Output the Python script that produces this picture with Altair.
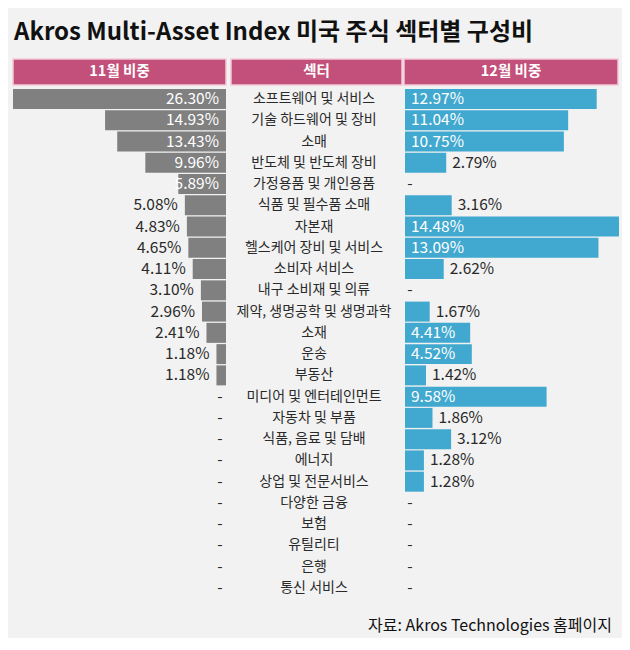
import altair as alt
import pandas as pd

# ---------------- data ----------------
sectors = ["소프트웨어 및 서비스", "기술 하드웨어 및 장비", "소매", "반도체 및 반도체 장비",
           "가정용품 및 개인용품", "식품 및 필수품 소매", "자본재", "헬스케어 장비 및 서비스",
           "소비자 서비스", "내구 소비재 및 의류", "제약, 생명공학 및 생명과학", "소재", "운송",
           "부동산", "미디어 및 엔터테인먼트", "자동차 및 부품", "식품, 음료 및 담배", "에너지",
           "상업 및 전문서비스", "다양한 금융", "보험", "유틸리티", "은행", "통신 서비스"]
nov = [26.30, 14.93, 13.43, 9.96, 5.89, 5.08, 4.83, 4.65, 4.11, 3.10, 2.96, 2.41, 1.18, 1.18,
       None, None, None, None, None, None, None, None, None, None]
dec = [12.97, 11.04, 10.75, 2.79, None, 3.16, 14.48, 13.09, 2.62, None, 1.67, 4.41, 4.52, 1.42,
       9.58, 1.86, 3.12, 1.28, 1.28, None, None, None, None, None]
headers = ["11월 비중", "섹터", "12월 비중"]
title_text = "Akros Multi-Asset Index 미국 주식 섹터별 구성비"
source_text = "자료: Akros Technologies 홈페이지"

df = pd.DataFrame({"sector": sectors, "nov": nov, "dec": dec, "idx": list(range(len(sectors)))})

# ---------------- layout ----------------
FONT = "Noto Sans CJK KR"
BG = "#f2f2f2"
GRAY = "#808080"
BLUE = "#41a8cf"
PINK = "#c3507a"
TXT = "#2a2a2a"

H = 630
ROW_PX = 21.26
TOP0 = 91
y_dom = [-TOP0 / ROW_PX, -TOP0 / ROW_PX + H / ROW_PX]
yscale = alt.Scale(domain=y_dom, reverse=True, nice=False, zero=False)

LW, MW, RW = 220, 172, 218
L_PX = 213 / 26.3
R_PX = 214 / 14.48
lx = alt.Scale(domain=[218 / L_PX, (218 - LW) / L_PX], nice=False, zero=False)
rx = alt.Scale(domain=[-1 / R_PX, (RW - 1) / R_PX], nice=False, zero=False)

base = alt.Chart(df).transform_calculate(
    y0="datum.idx - 0.47", y1="datum.idx + 0.47",
    nlab="isValid(datum.nov) ? format(datum.nov, '.2f') + '%' : '-'",
    dlab="isValid(datum.dec) ? format(datum.dec, '.2f') + '%' : '-'",
)

Y = alt.Y("idx:Q", scale=yscale, axis=None)
Y0 = alt.Y("y0:Q", scale=yscale, axis=None)
LBL = dict(font=FONT, fontSize=15.5, baseline="middle")


def header(k, x0, x1):
    hd = alt.Chart(pd.DataFrame({"h": [headers[k]]}))
    r = hd.mark_rect(fill=PINK, stroke="#f4c9d8", strokeWidth=1.5).encode(
        x=alt.value(x0), x2=alt.value(x1), y=alt.value(51), y2=alt.value(77))
    t = hd.mark_text(font=FONT, fontSize=14.5, fontWeight="bold", color="white",
                     baseline="middle", align="center").encode(
        x=alt.value((x0 + x1) / 2), y=alt.value(64), text="h:N")
    return r + t


# ---- left panel (November) ----
lb = base.transform_filter("isValid(datum.nov)").mark_rect(color=GRAY).encode(
    x=alt.X("nov:Q", scale=lx, axis=None), x2=alt.datum(0), y=Y0, y2="y1:Q")
l_in = base.transform_filter("isValid(datum.nov) && datum.nov >= 5.5").mark_text(
    align="right", dx=-7, color="white", **LBL).encode(
    x=alt.X(datum=0, scale=lx), y=Y, text="nlab:N")
l_out = base.transform_filter("isValid(datum.nov) && datum.nov < 5.5").mark_text(
    align="right", dx=-7, color=TXT, **LBL).encode(
    x=alt.X("nov:Q", scale=lx), y=Y, text="nlab:N")
l_dash = base.transform_filter("!isValid(datum.nov)").mark_text(
    align="center", dx=-6, color=TXT, **LBL).encode(
    x=alt.X(datum=0, scale=lx), y=Y, text="nlab:N")
title = alt.Chart(pd.DataFrame({"t": [title_text]})).mark_text(
    font=FONT, fontSize=24, fontWeight="bold", color="#111", align="left",
    baseline="alphabetic").encode(x=alt.value(6), y=alt.value(32), text="t:N")
left = alt.layer(lb, l_in, l_out, l_dash, header(0, 5, 218), title).properties(
    width=LW, height=H)

# ---- middle panel (sector) ----
mid_t = base.mark_text(align="center", color=TXT, font=FONT, fontSize=14,
                       baseline="middle").encode(
    x=alt.value(84), y=Y, text="sector:N")
middle = alt.layer(mid_t, header(1, 1, 172)).properties(width=MW, height=H)

# ---- right panel (December) ----
rb = base.transform_filter("isValid(datum.dec)").mark_rect(color=BLUE).encode(
    x=alt.X("dec:Q", scale=rx, axis=None), x2=alt.datum(0), y=Y0, y2="y1:Q")
r_in = base.transform_filter("isValid(datum.dec) && datum.dec >= 4").mark_text(
    align="left", dx=6, color="white", **LBL).encode(
    x=alt.X(datum=0, scale=rx), y=Y, text="dlab:N")
r_out = base.transform_filter("isValid(datum.dec) && datum.dec < 4").mark_text(
    align="left", dx=6, color=TXT, **LBL).encode(
    x=alt.X("dec:Q", scale=rx), y=Y, text="dlab:N")
r_dash = base.transform_filter("!isValid(datum.dec)").mark_text(
    align="center", dx=5, color=TXT, **LBL).encode(
    x=alt.X(datum=0, scale=rx), y=Y, text="dlab:N")
source = alt.Chart(pd.DataFrame({"s": [source_text]})).mark_text(
    font=FONT, fontSize=16, color="#111", align="right", baseline="middle").encode(
    x=alt.value(208), y=alt.value(618), text="s:N")
right = alt.layer(rb, r_in, r_out, r_dash, header(2, 0, 214), source).properties(
    width=RW, height=H)

chart = alt.hconcat(left, middle, right, spacing=2, bounds="flush").properties(
    background=BG, padding=0
).configure_view(stroke=None)

chart.save("out.html", embed_options={"renderer": "svg", "actions": False})
